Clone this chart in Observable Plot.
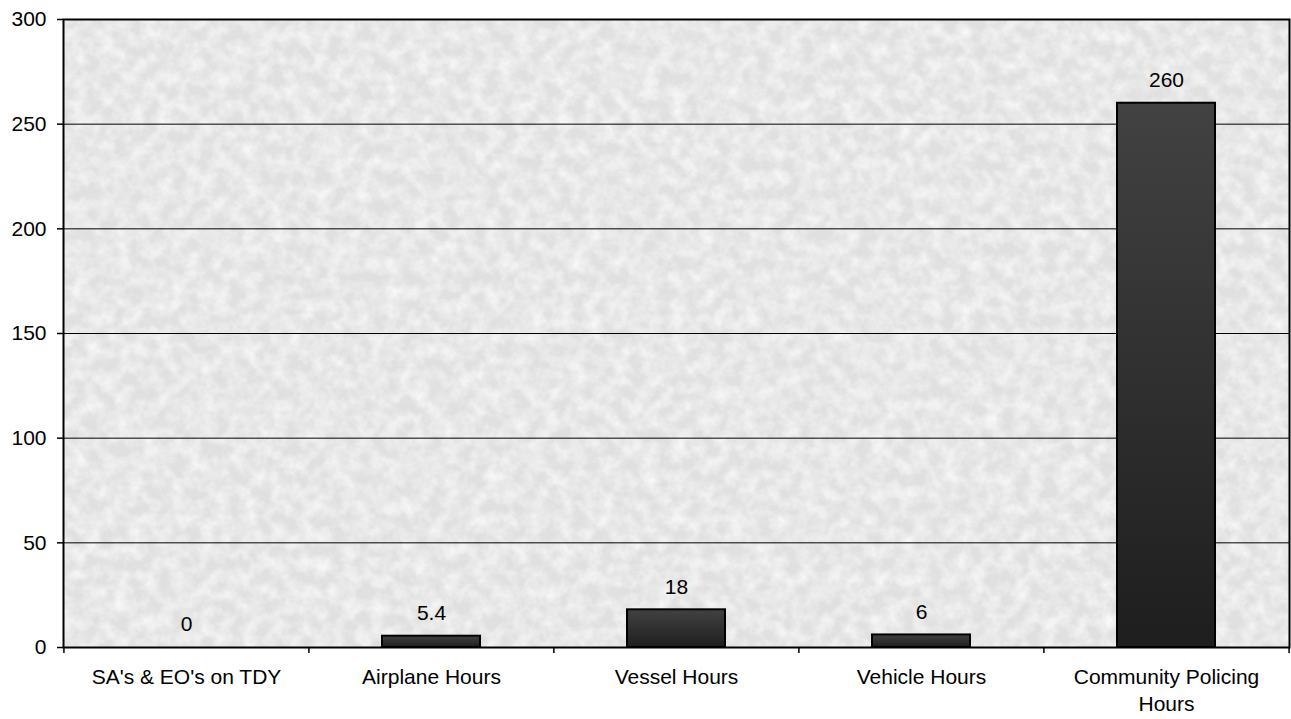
<!DOCTYPE html>
<html><head><meta charset="utf-8">
<script src="https://cdn.jsdelivr.net/npm/d3@7"></script>
<script src="https://cdn.jsdelivr.net/npm/@observablehq/plot@0.6"></script>
<style>html,body{margin:0;padding:0;background:#fff;}</style>
</head><body><div id="chart"></div>
<script>
const categories = ["SA's & EO's on TDY", "Airplane Hours", "Vessel Hours", "Vehicle Hours", "Community Policing Hours"];
const categoryLabels = ["SA's & EO's on TDY", "Airplane Hours", "Vessel Hours", "Vehicle Hours", "Community Policing\nHours"];
const values = [0, 5.4, 18, 6, 260];
const valueLabels = ["0", "5.4", "18", "6", "260"];
const yTicks = [0, 50, 100, 150, 200, 250, 300];

const data = categories.map((c, i) => ({category: c, value: values[i], label: valueLabels[i], tickLabel: categoryLabels[i]}));

const W = 1291, H = 719, mL = 63, mR = 2, mT = 19, mB = 72;
const step = (W - mL - mR) / categories.length;
const FS = 21;

const chart = Plot.plot({
  width: W, height: H,
  marginLeft: mL, marginRight: mR, marginTop: mT, marginBottom: mB,
  style: {fontFamily: "'Liberation Sans', Arial, sans-serif", fontSize: FS + "px", color: "#000", background: "#fff"},
  x: {type: "band", domain: categories, paddingInner: 0.6, paddingOuter: 0.3, axis: null},
  y: {domain: [0, 300], axis: null, label: null},
  marks: [
    Plot.frame({fill: "#e0e0e0"}),
    Plot.frame({fill: "#ffffff"}),
    Plot.ruleY(yTicks.slice(1, -1), {stroke: "#000", strokeWidth: 1}),
    Plot.barY(data, {x: "category", y: "value", fill: "url(#bargrad)", stroke: "#000", strokeWidth: 2}),
    Plot.text(data, {x: "category", y: "value", text: "label", dy: -23, fontSize: FS, fill: "#000"}),
    Plot.frame({stroke: "#000", strokeWidth: 2}),
    Plot.axisY({ticks: yTicks, label: null, tickSize: 6, tickPadding: 11, fontSize: FS, stroke: "#000", strokeWidth: 1.5, fill: "#000"}),
    Plot.ruleX(categories, {x: d => d, y1: 0, y2: 0, dx: -step / 2, insetBottom: -6, stroke: "#000", strokeWidth: 1.5}),
    Plot.ruleX(categories.slice(-1), {x: d => d, y1: 0, y2: 0, dx: step / 2, insetBottom: -6, stroke: "#000", strokeWidth: 1.5}),
    Plot.text(data, {x: "category", y: 0, text: "tickLabel", dy: 17, lineAnchor: "top", lineHeight: 1.3, fontSize: FS, fill: "#000"})
  ]
});

const svg = d3.select(chart);
const defs = svg.insert("defs", ":first-child");
const grad = defs.append("linearGradient").attr("id", "bargrad").attr("x1", 0).attr("y1", 0).attr("x2", 0).attr("y2", 1);
grad.append("stop").attr("offset", "0%").attr("stop-color", "#424242");
grad.append("stop").attr("offset", "100%").attr("stop-color", "#1e1e1e");
const f = defs.append("filter").attr("id", "tex").attr("x", 0).attr("y", 0).attr("width", "100%").attr("height", "100%");
f.append("feTurbulence").attr("type", "fractalNoise").attr("baseFrequency", 0.07).attr("numOctaves", 4).attr("seed", 7).attr("result", "n");
f.append("feColorMatrix").attr("in", "n").attr("type", "matrix")
  .attr("values", "0 0 0 0 1  0 0 0 0 1  0 0 0 0 1  1.3 0 0 0 -0.4").attr("result", "w");
f.append("feComposite").attr("in", "w").attr("in2", "SourceGraphic").attr("operator", "in");
const frames = svg.selectAll("g[aria-label='frame'], rect[aria-label='frame']").nodes();
if (frames.length > 1) d3.select(frames[1]).attr("filter", "url(#tex)");

document.getElementById("chart").appendChild(chart);
</script>
</body></html>
